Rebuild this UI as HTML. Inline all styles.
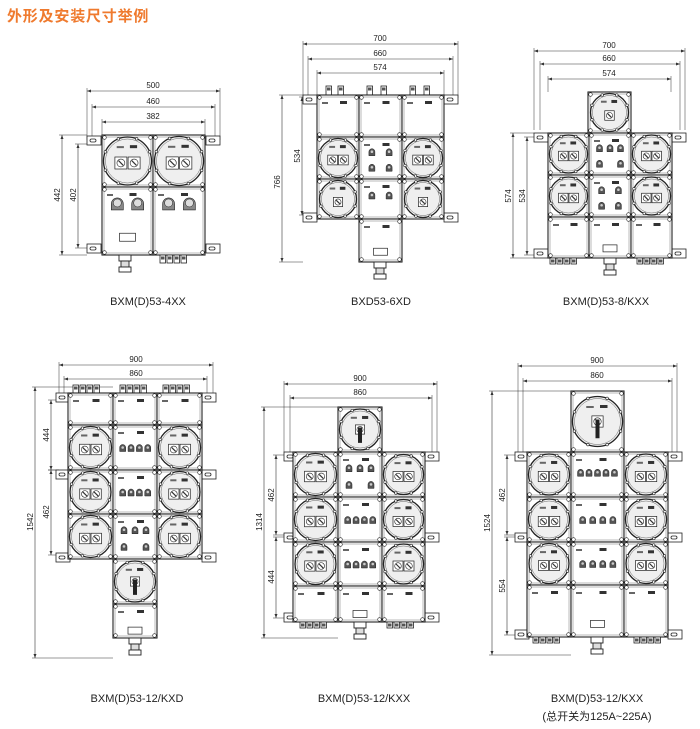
<!DOCTYPE html>
<html><head><meta charset="utf-8"><style>
html,body{margin:0;padding:0;background:#fff;width:700px;height:729px;overflow:hidden}
svg{display:block}
.t{font-family:"Liberation Sans",Arial,sans-serif;fill:#222}
</style></head><body>
<svg id="s" width="700" height="729" viewBox="0 0 700 729" xmlns="http://www.w3.org/2000/svg">
<text x="7" y="21" font-family="Liberation Sans,'Noto Sans CJK SC',sans-serif" font-size="15" font-weight="bold" fill="#ef7a2e" letter-spacing="0.8">外形及安装尺寸举例</text>
<g class="t" font-size="11" text-anchor="middle">
<text x="148" y="305">BXM(D)53-4XX</text>
<text x="381" y="305">BXD53-6XD</text>
<text x="606" y="305">BXM(D)53-8/KXX</text>
<text x="137" y="702">BXM(D)53-12/KXD</text>
<text x="364" y="702">BXM(D)53-12/KXX</text>
<text x="597" y="702">BXM(D)53-12/KXX</text>
<text x="597" y="720" font-family="Liberation Sans,'Noto Sans CJK SC',sans-serif">(总开关为125A~225A)</text>
</g>
<g class="t" font-size="8" text-anchor="middle">
<text x="153" y="88">500</text><text x="153" y="104">460</text><text x="153" y="119">382</text>
<text transform="translate(60,195) rotate(-90)">442</text><text transform="translate(76,195) rotate(-90)">402</text>
<text x="380" y="41">700</text><text x="380" y="56">660</text><text x="380" y="70">574</text>
<text transform="translate(280,182) rotate(-90)">766</text><text transform="translate(300,156) rotate(-90)">534</text>
<text x="609" y="48">700</text><text x="609" y="61">660</text><text x="609" y="76">574</text>
<text transform="translate(511,196) rotate(-90)">574</text><text transform="translate(525,196) rotate(-90)">534</text>
<text x="136" y="362">900</text><text x="136" y="376">860</text>
<text transform="translate(33,522) rotate(-90)">1542</text><text transform="translate(49,435) rotate(-90)">444</text><text transform="translate(49,512) rotate(-90)">462</text>
<text x="360" y="381">900</text><text x="360" y="395">860</text>
<text transform="translate(262,522) rotate(-90)">1314</text><text transform="translate(274,495) rotate(-90)">462</text><text transform="translate(274,577) rotate(-90)">444</text>
<text x="597" y="363">900</text><text x="597" y="378">860</text>
<text transform="translate(490,523) rotate(-90)">1524</text><text transform="translate(505,495) rotate(-90)">462</text><text transform="translate(505,586) rotate(-90)">554</text>
</g>
<g id="g" fill="none" stroke="#222" stroke-width="0.8"></g>
</svg>
<script>
var g=document.getElementById('g'),NS='http://www.w3.org/2000/svg';
function el(n,a){var e=document.createElementNS(NS,n);for(var k in a)e.setAttribute(k,a[k]);g.appendChild(e);return e;}
function L(x1,y1,x2,y2,w,c){el('line',{x1:x1,y1:y1,x2:x2,y2:y2,'stroke-width':w||0.6,stroke:c||'#333'});}
function arr(x,y,dx,dy){var p=dx?[x,y,x+dx*4,y-1.5,x+dx*4,y+1.5]:[x,y,x-1.5,y+dy*4,x+1.5,y+dy*4];el('polygon',{points:p.join(','),fill:'#333',stroke:'none'});}
function H(x1,x2,y,ext){L(x1,y,x2,y);arr(x1,y,1,0);arr(x2,y,-1,0);L(x1,y-3,x1,ext,0.5);L(x2,y-3,x2,ext,0.5);}
function V(x,y1,y2,ext){L(x,y1,x,y2);arr(x,y1,0,1);arr(x,y2,0,-1);if(ext){L(x-3,y1,ext,y1,0.5);L(x-3,y2,ext,y2,0.5);}}
function ear(x,y){el('rect',{x:x,y:y,width:14,height:9,fill:'#fff'});el('rect',{x:x+3,y:y+3,width:6,height:3,rx:1.5});}
function sq(cx,cy,s){el('rect',{x:cx-s/2,y:cy-s/2,width:s,height:s,fill:'#fff','stroke-width':0.7});el('circle',{cx:cx,cy:cy,r:s*0.33,'stroke-width':0.6});L(cx-s*0.2,cy-s*0.2,cx+s*0.2,cy+s*0.2,1.2,'#333');}
function sock(cx,cy){el('path',{d:'M'+(cx-3)+','+(cy+4)+'v-4a3,3 0 0 1 6,0v4z',fill:'#555',stroke:'#222','stroke-width':0.5});el('circle',{cx:cx,cy:cy,r:1.3,fill:'#ccc',stroke:'none'});}
function lamp(cx,cy){el('path',{d:'M'+(cx-6)+','+(cy+8)+'v-6a6,6 0 0 1 12,0v6z',fill:'#888',stroke:'#222','stroke-width':0.6});el('circle',{cx:cx,cy:cy+1,r:4,fill:'#ddd','stroke-width':0.5});}
function cell(x,y,w,h,t){
 el('rect',{x:x,y:y,width:w,height:h,fill:'#fff','stroke-width':1.1});
 el('rect',{x:x+2,y:y+2,width:w-4,height:h-4,'stroke-width':0.5,stroke:'#777'});
 [[x+2.5,y+2.5],[x+w-2.5,y+2.5],[x+2.5,y+h-2.5],[x+w-2.5,y+h-2.5]].forEach(function(p){el('circle',{cx:p[0],cy:p[1],r:1.8,fill:'#fff','stroke-width':0.6});});
 var cx=x+w/2,cy=y+h/2,r=Math.min(w,h)/2-1.5;
 if(t=='c2'||t=='c1'||t=='sw'){
  el('circle',{cx:cx,cy:cy,r:r,fill:'#efefef','stroke-width':1.3});
  el('circle',{cx:cx,cy:cy,r:r-2,'stroke-width':0.5,stroke:'#666'});
  for(var i=0;i<8;i++){var a=i*Math.PI/4+Math.PI/8;el('circle',{cx:cx+Math.cos(a)*r,cy:cy+Math.sin(a)*r,r:1.3,fill:'#fff','stroke-width':0.6});}
  el('rect',{x:cx-r*0.45,y:cy-r*0.62,width:r*0.3,height:2,fill:'#666',stroke:'none'});
  el('rect',{x:cx+r*0.1,y:cy-r*0.66,width:r*0.3,height:3,fill:'#333',stroke:'none'});
  var s=r*0.5;
  if(t=='c2'){sq(cx-s*0.55,cy+2,s);sq(cx+s*0.55,cy+2,s);}
  else if(t=='c1'){sq(cx,cy+3,s);}
  else{sq(cx,cy,s*0.9);el('rect',{x:cx-2,y:cy-2,width:4,height:r*0.75,fill:'#222',stroke:'none'});}
 } else {
  el('rect',{x:x+5,y:y+7,width:6,height:2,fill:'#666',stroke:'none'});
  el('rect',{x:cx+2,y:y+6,width:7,height:3,fill:'#333',stroke:'none'});
  if(t=='s4'){for(var i=0;i<4;i++)sock(x+w*(0.22+i*0.19),y+h*0.5);}
  if(t=='s5'){for(var i=0;i<5;i++)sock(x+w*(0.18+i*0.16),y+h*0.45);}
  if(t=='s22'){sock(x+w*0.3,y+h*0.35);sock(x+w*0.7,y+h*0.35);sock(x+w*0.3,y+h*0.72);sock(x+w*0.7,y+h*0.72);}
  if(t=='s2'){sock(x+w*0.3,y+h*0.4);sock(x+w*0.7,y+h*0.4);}
  if(t=='s32'){sock(x+w*0.25,y+h*0.35);sock(x+w*0.5,y+h*0.35);sock(x+w*0.75,y+h*0.35);sock(x+w*0.25,y+h*0.72);sock(x+w*0.75,y+h*0.72);}
  if(t=='l2'){lamp(x+w*0.3,y+h*0.22);lamp(x+w*0.7,y+h*0.22);}
  if(t=='l2w'){lamp(x+w*0.3,y+h*0.22);lamp(x+w*0.7,y+h*0.22);el('rect',{x:cx-8,y:y+h*0.68,width:16,height:8,'stroke-width':0.7});}
  if(t=='w'){el('rect',{x:cx-7,y:y+h*0.68,width:14,height:7,'stroke-width':0.7});}
 }
}
function gl(x,y,n,dy){for(var i=0;i<n;i++){el('rect',{x:x+i*7,y:y,width:5.5,height:dy||7,fill:'#fff','stroke-width':0.8});el('rect',{x:x+i*7+1,y:y+1.5,width:3.5,height:3,fill:'#555',stroke:'none'});}}
function big(cx,y){el('rect',{x:cx-6,y:y,width:12,height:6,fill:'#fff','stroke-width':0.9});el('rect',{x:cx-4,y:y+6,width:8,height:6,fill:'#ddd','stroke-width':0.9});el('rect',{x:cx-6,y:y+12,width:12,height:5,fill:'#fff','stroke-width':0.9});}

/* Diagram 1 */
H(87,220,91,140);H(92,215,107,140);H(102,205,122,140);
V(62,135,255,87);V(78,144,248,87);
ear(87,136);ear(206,136);ear(87,244);ear(206,244);
cell(102,135,51,52,'c2');cell(153,135,52,52,'c2');
cell(102,187,51,68,'l2w');cell(153,187,52,68,'l2');
big(125,255);gl(160,255,4,8);

/* Diagram 2 */
H(303,458,44,98);H(308,453,59,98);H(317,444,73,98);
V(282,95,262,303);V(302,97,215,303);
ear(303,95);ear(444,95);ear(303,213);ear(444,213);
gl(326,86,1,9);gl(338,86,1,9);gl(367,86,1,9);gl(381,86,1,9);gl(410,86,1,9);gl(424,86,1,9);
cell(317,95,42,42,'e');cell(359,95,43,42,'e');cell(402,95,42,42,'e');
cell(317,137,42,42,'c2');cell(359,137,43,42,'s22');cell(402,137,42,42,'c2');
cell(317,179,42,40,'c1');cell(359,179,43,40,'s2');cell(402,179,42,40,'c1');
cell(359,219,43,43,'w');big(380,262);

/* Diagram 3 */
H(534,685,51,130);H(540,680,64,130);H(548,671,79,92);
V(513,133,258,534);V(527,137,255,534);
ear(534,133);ear(672,133);ear(534,249);ear(672,249);
cell(588,92,43,41,'c1');
cell(548,133,41,42,'c2');cell(589,133,42,42,'s32');cell(631,133,41,42,'c2');
cell(548,175,41,42,'c2');cell(589,175,42,42,'s22');cell(631,175,41,42,'c2');
cell(548,217,41,41,'e');cell(589,217,42,41,'w');cell(631,217,41,41,'e');
gl(550,258,4,6);gl(637,258,4,6);big(610,258);

/* Diagram 4 */
H(59,213,365,393);H(64,207,379,393);
V(35,387,658,113);V(51,400,470,59);V(51,470,555,59);
ear(56,393);ear(202,393);ear(56,470);ear(202,470);ear(56,553);ear(202,553);
gl(73,385,4,8);gl(120,385,4,8);gl(163,385,4,8);
cell(68,393,45,32,'e');cell(113,393,44,32,'e');cell(157,393,45,32,'e');
cell(68,425,45,45,'c2');cell(113,425,44,45,'s4');cell(157,425,45,45,'c2');
cell(68,470,45,44,'c2');cell(113,470,44,44,'s4');cell(157,470,45,44,'c2');
cell(68,514,45,45,'c2');cell(113,514,44,45,'s32');cell(157,514,45,45,'c2');
cell(113,559,44,45,'sw');cell(113,604,44,34,'w');big(135,638);

/* Diagram 5 */
H(284,437,384,452);H(290,432,398,452);
V(264,407,638,338);V(276,455,535,284);V(276,537,618,284);
ear(284,452);ear(425,452);ear(284,533);ear(425,533);ear(284,613);ear(425,613);
cell(338,407,44,45,'sw');
cell(293,452,45,45,'c2');cell(338,452,44,45,'s32');cell(382,452,43,45,'c2');
cell(293,497,45,45,'c2');cell(338,497,44,45,'s4');cell(382,497,43,45,'c2');
cell(293,542,45,44,'c2');cell(338,542,44,44,'s4');cell(382,542,43,44,'c2');
cell(293,586,45,36,'e');cell(338,586,44,36,'w');cell(382,586,43,36,'e');
gl(300,622,4,6);gl(387,622,4,6);big(360,622);

/* Diagram 6 */
H(518,677,366,452);H(523,672,381,452);
V(492,391,655,571);V(507,455,535,518);V(507,537,635,518);
ear(515,452);ear(668,452);ear(515,533);ear(668,533);ear(515,630);ear(668,630);
cell(571,391,53,61,'sw');
cell(527,452,44,45,'c2');cell(571,452,53,45,'s5');cell(624,452,44,45,'c2');
cell(527,497,44,45,'c2');cell(571,497,53,45,'s4');cell(624,497,44,45,'c2');
cell(527,542,44,43,'c2');cell(571,542,53,43,'s4');cell(624,542,44,43,'c2');
cell(527,585,44,52,'e');cell(571,585,53,52,'w');cell(624,585,44,52,'e');
gl(533,637,4,6);gl(634,637,4,6);big(597,637);
</script>
</body></html>
